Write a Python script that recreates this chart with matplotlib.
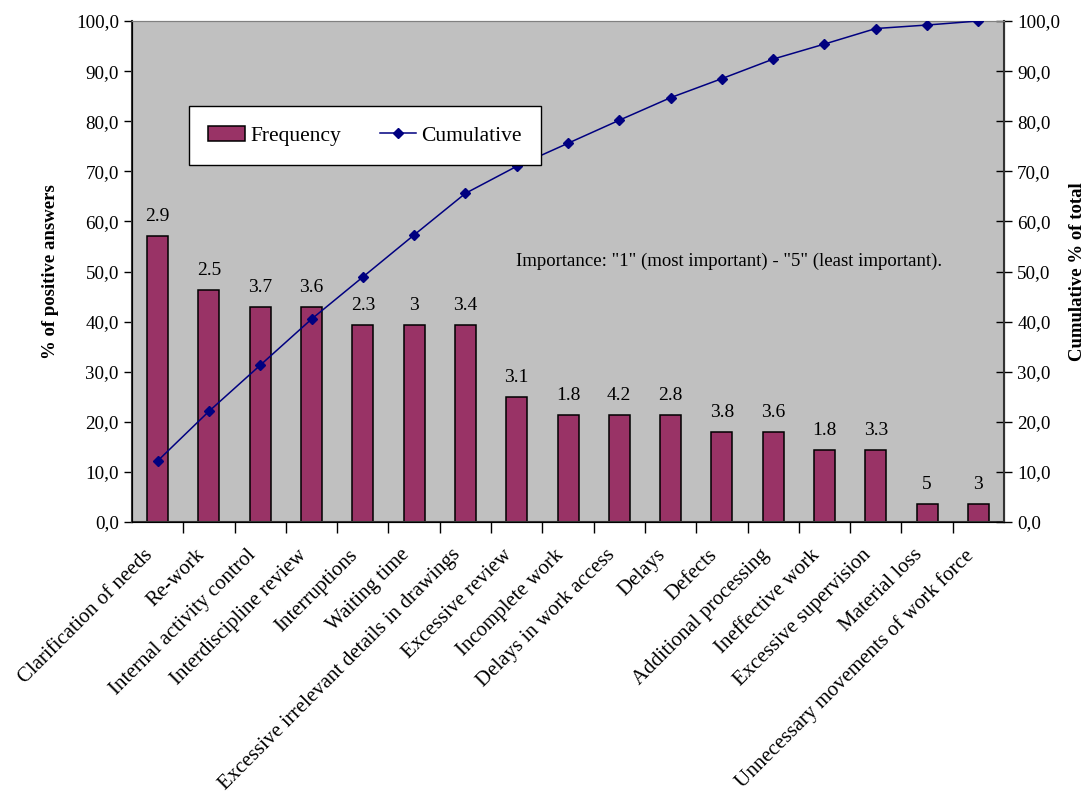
import matplotlib.pyplot as plt
import matplotlib.transforms as mtransforms
from matplotlib.ticker import FuncFormatter

plt.rcParams['font.family'] = ['Liberation Serif', 'DejaVu Serif']

# Waste categories, share of positive answers, mean importance and cumulative share
categories = [
    "Clarification of needs", "Re-work", "Internal activity control",
    "Interdiscipline review", "Interruptions", "Waiting time",
    "Excessive irrelevant details in drawings", "Excessive review",
    "Incomplete work", "Delays in work access", "Delays", "Defects",
    "Additional processing", "Ineffective work", "Excessive supervision",
    "Material loss", "Unnecessary movements of work force",
]
frequency = [57.1, 46.4, 42.9, 42.9, 39.3, 39.3, 39.3, 25.0, 21.4, 21.4,
             21.4, 17.9, 17.9, 14.3, 14.3, 3.6, 3.6]
importance = ["2.9", "2.5", "3.7", "3.6", "2.3", "3", "3.4", "3.1", "1.8",
              "4.2", "2.8", "3.8", "3.6", "1.8", "3.3", "5", "3"]
cumulative = [12.2, 22.1, 31.3, 40.5, 48.9, 57.3, 65.6, 71.0, 75.6, 80.2,
              84.7, 88.5, 92.4, 95.4, 98.5, 99.2, 100.0]
yticks = [0, 10, 20, 30, 40, 50, 60, 70, 80, 90, 100]

fig = plt.figure(figsize=(10.84, 7.99), dpi=100)
ax = fig.add_axes([0.1218, 0.3467, 0.8044, 0.627])
ax.set_facecolor('#C0C0C0')

x = list(range(len(categories)))
bars = ax.bar(x, frequency, width=0.41, color='#993366', edgecolor='black',
              linewidth=1.1, label='Frequency', zorder=2)
for xi, h, lab in zip(x, frequency, importance):
    ax.text(xi, h + 2.2, lab, ha='center', va='bottom', fontsize=14)

ax.set_xlim(-0.5, len(categories) - 0.5)
ax.set_ylim(0, 100)
ax.set_yticks(yticks)
fmt = FuncFormatter(lambda v, p: f"{v:.1f}".replace('.', ','))
ax.yaxis.set_major_formatter(fmt)
ax.tick_params(axis='y', direction='out', length=6, labelsize=13.7, width=1)

ax.set_xticks(x)
ax.set_xticklabels(categories, rotation=45, ha='right', rotation_mode='anchor',
                   fontsize=15)
ax.tick_params(axis='x', which='major', length=0, pad=17)
# nudge the slanted labels left so they end just under their bar
shift = mtransforms.ScaledTranslation(-14 / 100, 0, fig.dpi_scale_trans)
for lbl in ax.get_xticklabels():
    lbl.set_transform(lbl.get_transform() + shift)
ax.set_xticks([i + 0.5 for i in x[:-1]], minor=True)
ax.tick_params(axis='x', which='minor', direction='out', length=8, width=1)

ax.set_ylabel('% of positive answers', fontsize=13.5, fontweight='bold',
              labelpad=12)

ax.spines['top'].set_color('#808080')
ax.spines['left'].set_color('#333333')
ax.spines['bottom'].set_color('#333333')
ax.spines['left'].set_linewidth(1.5)
ax.spines['bottom'].set_linewidth(1.5)

ax2 = ax.twinx()
line, = ax2.plot(x, cumulative, color='#000080', marker='D', markersize=5,
                 linewidth=1.1, label='Cumulative', zorder=3)
ax2.set_ylim(0, 100)
ax2.set_yticks(yticks)
ax2.yaxis.set_major_formatter(fmt)
ax2.tick_params(axis='y', direction='inout', length=12, labelsize=13.7, width=1)
ax2.spines['right'].set_color('#333333')
ax2.spines['right'].set_linewidth(1.5)
ax2.spines['top'].set_color('#808080')
ax2.set_ylabel('Cumulative % of total', fontsize=13.5, fontweight='bold',
               labelpad=6)

ax2.text(0.44, 0.52, 'Importance: "1" (most important) - "5" (least important).',
         transform=ax2.transAxes, fontsize=13.5, ha='left', va='center')

leg = ax2.legend([bars, line], ['Frequency', 'Cumulative'], ncol=2,
                 loc='upper left', bbox_to_anchor=(0.065, 0.83),
                 fontsize=15.5, frameon=True, fancybox=False, shadow=False,
                 borderpad=0.9, handlelength=1.7, columnspacing=1.8,
                 handletextpad=0.25, borderaxespad=0, framealpha=1)
leg.get_frame().set_facecolor('white')
leg.get_frame().set_edgecolor('black')
leg.get_frame().set_linewidth(1)

fig.savefig('out.png', dpi=100)
